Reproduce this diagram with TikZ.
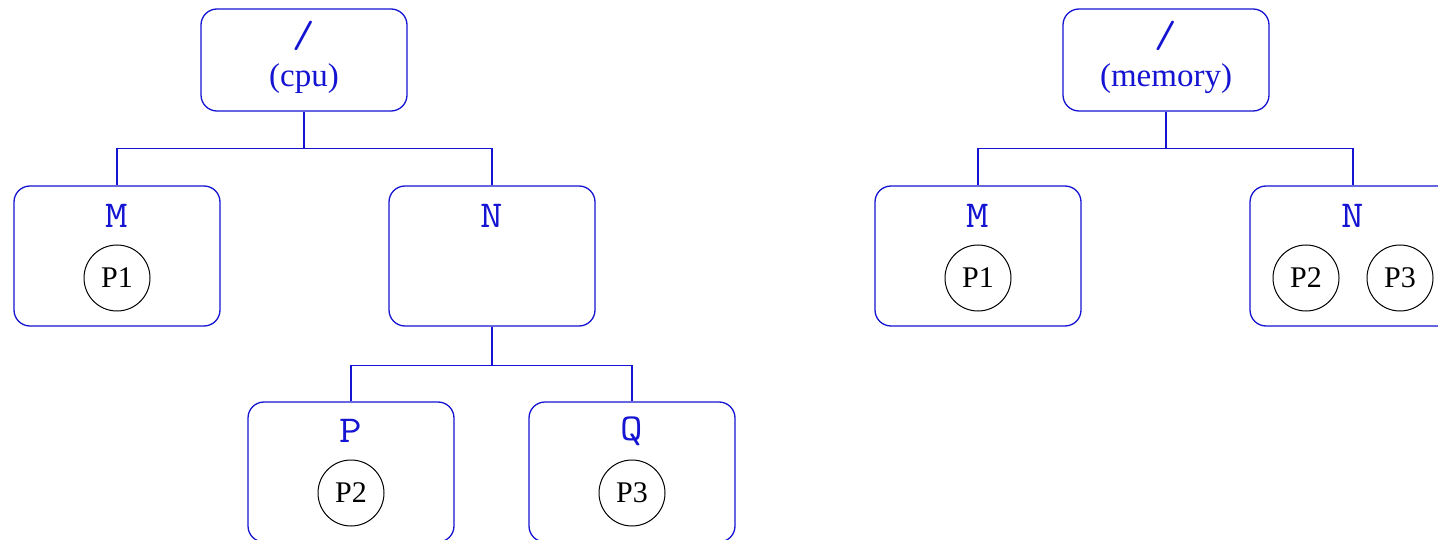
\documentclass[tikz,border=0pt]{standalone}
\usepackage{fontspec}
\setmainfont{Liberation Serif}
% directory names: typewriter, slightly widened
\newcommand\dirtext[1]{\scalebox{1.15}[1]{#1}}
\begin{document}
\begin{tikzpicture}[x=1pt,y=-1pt,
  tree/.style={draw=treeblue,line width=1.3pt},
  dirbox/.style={draw=treeblue,line width=1.3pt,rounded corners=16pt,
    minimum width=206pt,minimum height=140pt,inner sep=0pt},
  rootbox/.style={dirbox,minimum height=102pt},
  dirname/.style={text=treeblue,font=\fontsize{38}{40}\selectfont\ttfamily,inner sep=0pt},
  ctrl/.style={text=treeblue,font=\fontsize{33}{35}\selectfont,inner sep=0pt},
  proc/.style={draw,circle,line width=1pt,minimum size=66pt,inner sep=0pt,
    font=\fontsize{30}{32}\selectfont}]
\definecolor{treeblue}{RGB}{20,20,210}
\useasboundingbox (0,0) rectangle (1438,540);

% cpu hierarchy
\node[rootbox] (cpu) at (304,60) {};
\node[dirname] (cpuslash) at (304,36) {\dirtext{/}};
\node[ctrl] (cpulabel) at (304,79) {(cpu)};

\node[dirbox] (cM) at (117,256) {};
\node[dirname] (cMname) at (117,216) {\dirtext{M}};
\node[proc] (cP1) at (117,278) {P1};

\node[dirbox] (cN) at (492,256) {};
\node[dirname] (cNname) at (492,216) {\dirtext{N}};

\node[dirbox] (cP) at (351,472) {};
\node[dirname] (cPname) at (351,431) {\dirtext{P}};
\node[proc] (cP2) at (351,493) {P2};

\node[dirbox] (cQ) at (632,472) {};
\node[dirname] (cQname) at (632,431) {\dirtext{Q}};
\node[proc] (cP3) at (632,493) {P3};

\draw[tree] (cpu.south) -- ++(0,37) -| (cM.north);
\draw[tree] (cpu.south) ++(0,37) -| (cN.north);
\draw[tree] (cN.south) -- ++(0,39) -| (cP.north);
\draw[tree] (cN.south) ++(0,39) -| (cQ.north);

% memory hierarchy
\node[rootbox] (mem) at (1166,60) {};
\node[dirname] (memslash) at (1166,36) {\dirtext{/}};
\node[ctrl] (memlabel) at (1166,79) {(memory)};

\node[dirbox] (mM) at (978,256) {};
\node[dirname] (mMname) at (978,216) {\dirtext{M}};
\node[proc] (mP1) at (978,278) {P1};

\node[dirbox] (mN) at (1353,256) {};
\node[dirname] (mNname) at (1353,216) {\dirtext{N}};
\node[proc] (mP2) at (1306,278) {P2};
\node[proc] (mP3) at (1400,278) {P3};

\draw[tree] (mem.south) -- ++(0,37) -| (mM.north);
\draw[tree] (mem.south) ++(0,37) -| (mN.north);
\end{tikzpicture}
\end{document}
